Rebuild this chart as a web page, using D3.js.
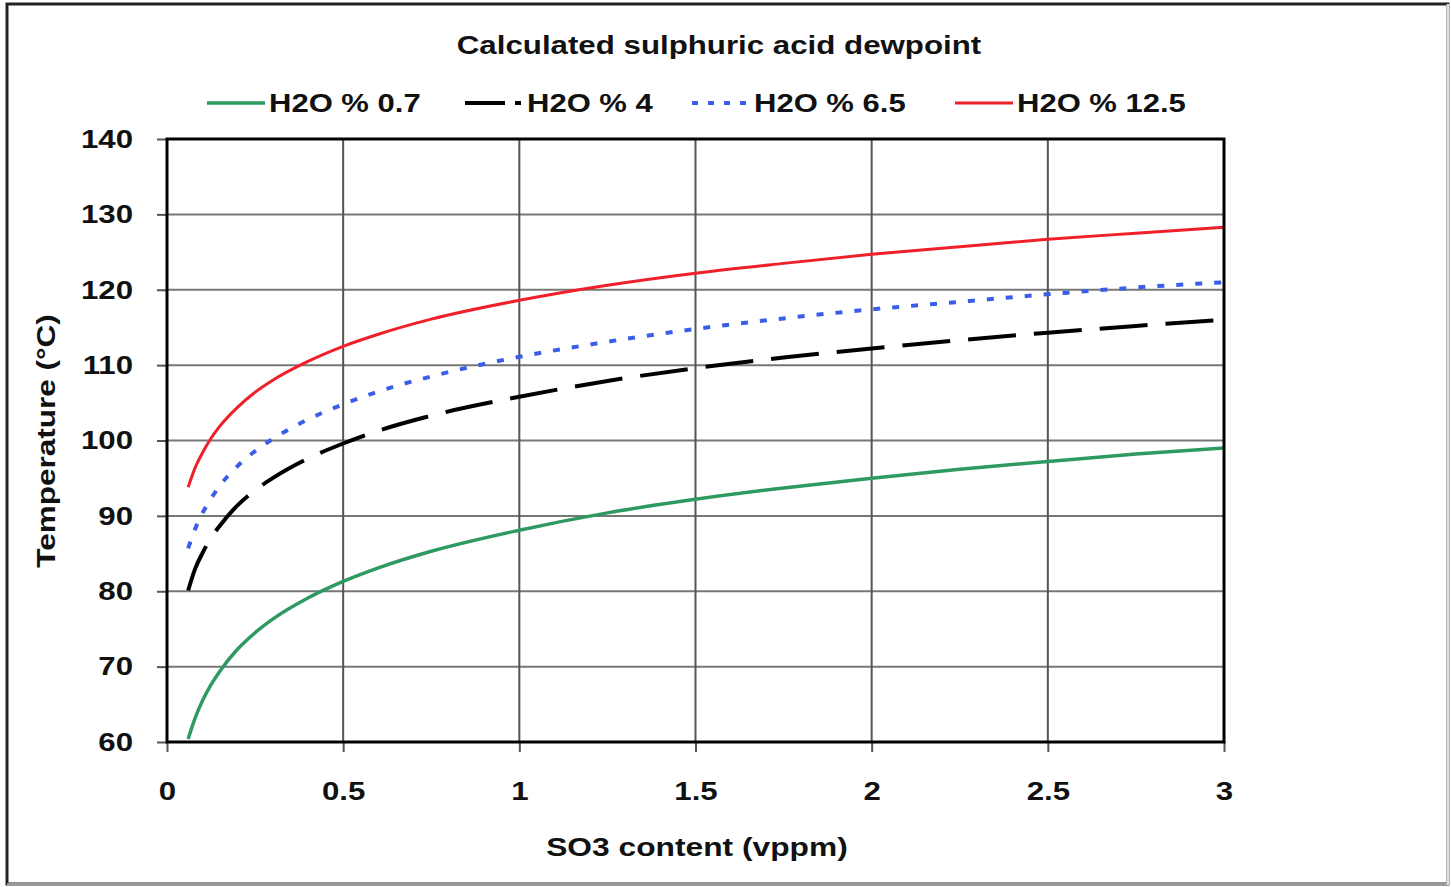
<!DOCTYPE html>
<html>
<head>
<meta charset="utf-8">
<script src="https://cdn.jsdelivr.net/npm/d3@7"></script>
<style>
  body { margin: 0; background: #fff; }
  svg text { font-family: "Liberation Sans", Arial, sans-serif; font-weight: bold; fill: #111; }
</style>
</head>
<body>
<div id="chart"></div>
<script>
// SO3 content (vppm)
var so3 = [0.06, 0.08, 0.1, 0.125, 0.15, 0.2, 0.25, 0.3, 0.4, 0.5, 0.6, 0.75, 1, 1.25, 1.5, 1.75, 2, 2.25, 2.5, 2.75, 3];
// dewpoint temperature (°C) per H2O %
var h2o_07  = [60.4, 63.2, 65.4, 67.6, 69.4, 72.3, 74.5, 76.3, 79.1, 81.3, 83.1, 85.3, 88.1, 90.4, 92.2, 93.7, 95.0, 96.2, 97.2, 98.2, 99.0];
var h2o_4   = [80.1, 83.0, 85.0, 87.1, 88.7, 91.4, 93.4, 95.0, 97.6, 99.6, 101.3, 103.3, 105.8, 107.9, 109.6, 111.0, 112.2, 113.3, 114.3, 115.2, 116.0];
var h2o_65  = [85.7, 88.3, 90.3, 92.3, 94.0, 96.6, 98.6, 100.2, 102.8, 104.8, 106.5, 108.5, 111.1, 113.1, 114.8, 116.2, 117.4, 118.4, 119.4, 120.3, 121.0];
var h2o_125 = [93.8, 96.4, 98.3, 100.3, 101.9, 104.4, 106.4, 108.0, 110.5, 112.5, 114.1, 116.1, 118.6, 120.6, 122.2, 123.5, 124.7, 125.7, 126.7, 127.5, 128.3];
var seriesNames = ["H2O % 0.7", "H2O % 4", "H2O % 6.5", "H2O % 12.5"];
var xTicks = [0, 0.5, 1, 1.5, 2, 2.5, 3];
var yTicks = [60, 70, 80, 90, 100, 110, 120, 130, 140];

var W = 1451, H = 887;
var margin = { top: 139, right: 227, bottom: 145, left: 167 };
var width = W - margin.left - margin.right,
    height = H - margin.top - margin.bottom;

// the source font is a little wider than Liberation Sans
function stretch(sel, k) {
    sel.each(function () {
        var len = this.getComputedTextLength();
        d3.select(this).attr("textLength", len * k).attr("lengthAdjust", "spacingAndGlyphs");
    });
}

var svg = d3.select("#chart").append("svg")
    .attr("width", W)
    .attr("height", H);

// outer frame
svg.append("rect")
    .attr("x", 7).attr("y", 4)
    .attr("width", 1441).attr("height", 880)
    .attr("fill", "none")
    .attr("stroke", "#222")
    .attr("stroke-width", 3);
svg.append("line").attr("x1", 7).attr("x2", 1449).attr("y1", 884.5).attr("y2", 884.5)
    .attr("stroke", "#999").attr("stroke-width", 3);
svg.append("line").attr("x1", 1448).attr("x2", 1448).attr("y1", 4).attr("y2", 885)
    .attr("stroke", "#ddd").attr("stroke-width", 3);

var g = svg.append("g")
    .attr("transform", "translate(" + margin.left + "," + margin.top + ")");

var x = d3.scaleLinear().domain([0, 3]).range([0, width]);
var y = d3.scaleLinear().domain([60, 140]).range([height, 0]);

// gridlines
g.append("g").selectAll("line")
    .data(yTicks)
    .enter().append("line")
    .attr("x1", 0).attr("x2", width)
    .attr("y1", function (d) { return y(d); })
    .attr("y2", function (d) { return y(d); })
    .attr("stroke", "#777")
    .attr("stroke-width", 2);
g.append("g").selectAll("line")
    .data(xTicks)
    .enter().append("line")
    .attr("y1", 0).attr("y2", height)
    .attr("x1", function (d) { return x(d); })
    .attr("x2", function (d) { return x(d); })
    .attr("stroke", "#555")
    .attr("stroke-width", 2);

// axes
var xAxis = g.append("g")
    .attr("transform", "translate(0," + height + ")")
    .call(d3.axisBottom(x).tickValues(xTicks).tickSize(10).tickPadding(30)
        .tickFormat(function (d) { return d; }));
var yAxis = g.append("g")
    .call(d3.axisLeft(y).tickValues(yTicks).tickSize(10).tickPadding(24));
[xAxis, yAxis].forEach(function (a) {
    a.select(".domain").remove();
    a.selectAll(".tick line").attr("stroke", "#555").attr("stroke-width", 2);
    a.selectAll("text").style("font-size", "26px").attr("fill", "#111");
    stretch(a.selectAll("text"), 1.2);
});

// series
var data = [h2o_07, h2o_4, h2o_65, h2o_125];
var styles = [
    { color: "#2e9a62", width: 3.5, dash: null },
    { color: "#000", width: 4, dash: "48,18" },
    { color: "#3b5ee8", width: 4, dash: "7,12" },
    { color: "#f0202a", width: 3, dash: null }
];

var line = d3.line()
    .x(function (d, i) { return x(so3[i]); })
    .y(function (d) { return y(d); })
    .curve(d3.curveMonotoneX);

g.selectAll(".series")
    .data(data)
    .enter().append("path")
    .attr("class", "series")
    .attr("d", function (d) { return line(d); })
    .attr("fill", "none")
    .attr("stroke", function (d, i) { return styles[i].color; })
    .attr("stroke-width", function (d, i) { return styles[i].width; })
    .attr("stroke-dasharray", function (d, i) { return styles[i].dash; });

// plot frame
g.append("rect")
    .attr("width", width).attr("height", height)
    .attr("fill", "none")
    .attr("stroke", "#000")
    .attr("stroke-width", 3);

// title
svg.append("text")
    .attr("x", 719).attr("y", 54)
    .attr("text-anchor", "middle")
    .style("font-size", "25px")
    .text("Calculated sulphuric acid dewpoint")
    .call(stretch, 1.25);

// legend
var legendX = [207, 465, 692, 955];
var legendDash = [null, "40,10,6,6", "6,10", null];
var leg = svg.append("g").selectAll("g")
    .data(seriesNames)
    .enter().append("g")
    .attr("transform", function (d, i) { return "translate(" + legendX[i] + ",103)"; });
leg.append("line")
    .attr("x1", 0).attr("x2", 58)
    .attr("stroke", function (d, i) { return styles[i].color; })
    .attr("stroke-width", function (d, i) { return styles[i].width; })
    .attr("stroke-dasharray", function (d, i) { return legendDash[i]; });
leg.append("text")
    .attr("x", 62).attr("y", 9)
    .style("font-size", "25px")
    .text(function (d) { return d; })
    .call(stretch, 1.24);

// axis titles
svg.append("text")
    .attr("x", 697).attr("y", 856)
    .attr("text-anchor", "middle")
    .style("font-size", "25px")
    .text("SO3 content (vppm)")
    .call(stretch, 1.27);
svg.append("text")
    .attr("transform", "translate(55,441) rotate(-90)")
    .attr("text-anchor", "middle")
    .style("font-size", "25px")
    .text("Temperature (°C)")
    .call(stretch, 1.26);
</script>
</body>
</html>
